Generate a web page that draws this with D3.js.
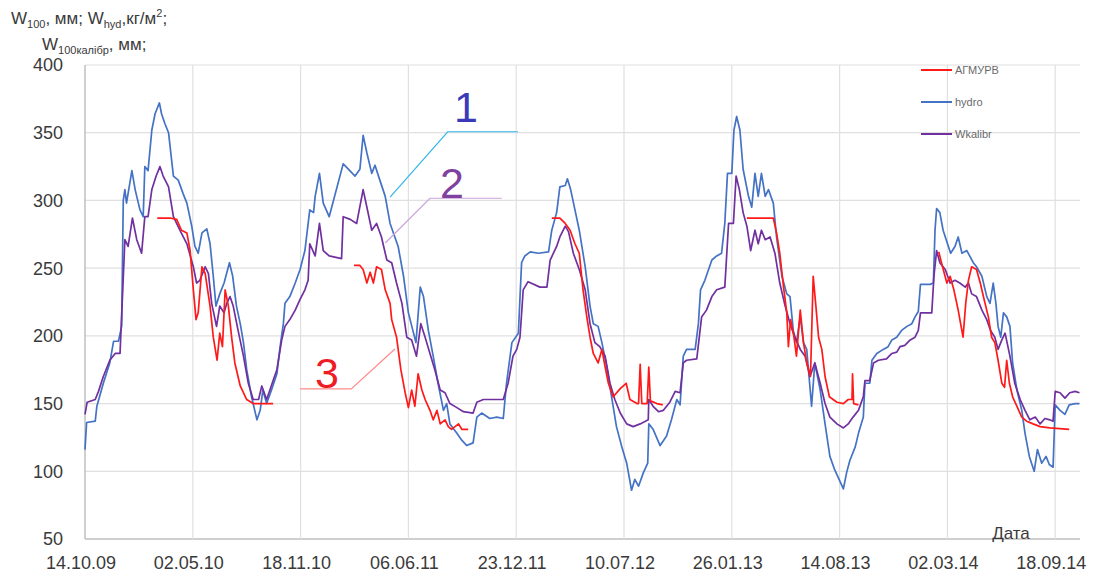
<!DOCTYPE html>
<html>
<head>
<meta charset="utf-8">
<script src="https://cdn.jsdelivr.net/npm/d3@7"></script>
<style>
  body { margin: 0; background: #fff; }
  svg { display: block; }
  text { font-family: 'Liberation Sans', Arial, sans-serif; }
</style>
</head>
<body>
<div id="chart"></div>
<script>
// SOIL MOISTURE: three series over time (days counted from 14.10.09)

// DATA
const startLabel = '14.10.09';
const lastDay = 1846;
const tickLabels = ['14.10.09', '02.05.10', '18.11.10', '06.06.11', '23.12.11',
  '10.07.12', '26.01.13', '14.08.13', '02.03.14', '18.09.14'];
const yTicks = [50, 100, 150, 200, 250, 300, 350, 400];
const seriesNames = ['АГМУРВ', 'hydro', 'Wkalibr'];

// [day, value]
const hydro = [[0,116],[3,136],[19,137],[22,148],[34,165],[46,180],[53,196],[62,196],[68,207],[71,300],[74,308],[77,298],[87,322],[93,308],[102,293],[108,288],[111,325],[117,322],[124,352],[130,364],[138,372],[142,364],[148,357],[155,350],[164,318],[173,315],[182,305],[189,298],[198,281],[204,266],[210,261],[217,276],[226,279],[232,268],[238,244],[243,222],[250,231],[258,239],[268,254],[274,244],[281,222],[288,209],[294,195],[300,175],[309,155],[319,138],[325,145],[330,160],[337,150],[346,160],[356,172],[362,192],[368,209],[371,224],[380,229],[390,239],[399,249],[408,263],[417,293],[424,291],[427,303],[435,320],[442,298],[453,288],[479,327],[489,323],[501,318],[510,323],[516,348],[523,335],[532,320],[538,326],[547,315],[557,303],[566,283],[581,266],[591,244],[600,217],[614,195],[622,236],[628,229],[637,204],[646,185],[655,165],[665,145],[671,150],[677,135],[690,128],[699,123],[708,119],[720,121],[727,140],[736,143],[751,139],[764,140],[776,139],[782,165],[792,195],[804,202],[810,254],[816,259],[826,262],[841,261],[860,262],[866,278],[875,291],[881,310],[891,311],[895,316],[901,308],[909,293],[917,278],[928,251],[937,222],[943,209],[952,207],[959,195],[968,177],[977,155],[986,133],[996,118],[1005,106],[1014,86],[1020,94],[1027,89],[1036,99],[1044,106],[1046,135],[1054,131],[1067,119],[1079,126],[1088,138],[1098,153],[1104,149],[1110,185],[1116,190],[1132,190],[1138,209],[1142,234],[1150,241],[1163,256],[1172,259],[1181,261],[1187,283],[1192,320],[1200,320],[1204,352],[1209,362],[1215,352],[1221,323],[1231,303],[1237,295],[1243,320],[1249,303],[1255,320],[1262,303],[1268,308],[1277,298],[1283,273],[1293,244],[1302,231],[1308,229],[1314,204],[1320,195],[1327,214],[1333,195],[1339,190],[1348,148],[1354,180],[1364,160],[1373,135],[1382,111],[1391,101],[1407,87],[1413,99],[1419,108],[1429,118],[1435,128],[1444,140],[1447,165],[1456,165],[1460,182],[1469,187],[1481,190],[1490,192],[1497,197],[1506,199],[1515,204],[1525,207],[1534,209],[1540,214],[1546,218],[1550,238],[1568,238],[1574,239],[1577,278],[1580,294],[1586,291],[1592,278],[1606,261],[1614,266],[1620,273],[1627,261],[1636,263],[1648,254],[1654,251],[1664,244],[1673,229],[1679,224],[1685,239],[1690,224],[1694,207],[1699,199],[1704,217],[1710,214],[1716,207],[1721,180],[1729,160],[1738,145],[1744,128],[1752,111],[1761,100],[1767,116],[1775,106],[1783,111],[1789,105],[1796,103],[1800,149],[1809,145],[1818,142],[1826,149],[1837,150],[1845,150]];

const wkalibr = [[0,142],[4,151],[19,153],[25,159],[34,170],[46,182],[56,187],[65,187],[74,271],[80,266],[88,287],[96,271],[105,261],[111,288],[117,288],[124,308],[132,318],[139,325],[145,318],[155,310],[164,288],[176,278],[189,268],[201,251],[207,239],[213,241],[223,251],[229,246],[235,224],[244,207],[250,222],[258,217],[263,224],[269,229],[275,222],[284,204],[294,185],[303,165],[312,153],[322,153],[328,163],[337,153],[343,160],[349,167],[356,175],[365,197],[371,207],[380,212],[390,219],[399,227],[408,234],[414,241],[417,268],[427,259],[435,283],[442,263],[453,259],[476,257],[479,288],[492,286],[504,283],[516,308],[523,295],[532,278],[541,283],[550,273],[560,256],[569,254],[578,239],[588,224],[597,199],[606,197],[615,185],[623,209],[631,199],[640,187],[649,175],[659,160],[668,158],[677,150],[690,147],[702,144],[720,143],[727,151],[739,153],[764,153],[776,153],[785,165],[794,185],[801,190],[807,199],[813,234],[822,240],[844,236],[857,236],[863,256],[875,266],[881,273],[891,281],[897,277],[906,261],[917,249],[928,234],[937,209],[946,195],[955,192],[965,185],[974,165],[983,153],[993,143],[1005,135],[1017,133],[1030,135],[1045,138],[1046,153],[1054,148],[1064,144],[1073,145],[1085,151],[1095,159],[1104,158],[1110,180],[1116,182],[1135,183],[1144,214],[1153,219],[1163,229],[1172,234],[1187,236],[1194,283],[1203,283],[1208,318],[1214,308],[1221,291],[1228,281],[1235,263],[1243,278],[1249,268],[1255,278],[1262,271],[1271,273],[1280,261],[1289,239],[1299,222],[1308,209],[1317,199],[1327,190],[1336,185],[1345,170],[1354,180],[1364,165],[1373,150],[1382,140],[1395,135],[1407,132],[1416,135],[1425,140],[1435,145],[1444,155],[1447,167],[1456,167],[1463,180],[1472,182],[1487,183],[1497,187],[1506,188],[1512,192],[1521,193],[1531,197],[1540,199],[1546,204],[1550,217],[1571,217],[1575,244],[1580,263],[1586,254],[1596,249],[1605,239],[1614,241],[1623,239],[1633,236],[1639,239],[1645,231],[1654,229],[1664,219],[1673,212],[1680,204],[1688,199],[1694,190],[1701,197],[1707,202],[1716,185],[1725,165],[1735,153],[1744,145],[1753,138],[1763,140],[1772,135],[1781,139],[1790,138],[1796,137],[1800,159],[1809,158],[1818,154],[1827,158],[1837,159],[1845,158]];

// null values = gaps in the record
const agmurv = [[134,287],[158,287],[170,286],[179,278],[189,276],[195,263],[201,234],[206,212],[210,217],[217,251],[223,246],[232,222],[238,199],[245,182],[250,202],[255,192],[260,234],[266,222],[272,199],[278,180],[288,163],[300,153],[312,150],[349,150],
  [420,null],
  [499,252],[510,252],[516,249],[523,239],[529,247],[535,239],[541,251],[550,249],[557,234],[566,224],[569,212],[578,199],[586,175],[594,158],[600,147],[606,160],[612,148],[618,172],[625,160],[631,153],[640,145],[646,138],[653,145],[659,135],[668,138],[674,133],[680,131],[693,135],[699,131],[711,131],
  [790,null],
  [866,287],[881,287],[891,283],[900,278],[909,268],[917,261],[924,234],[931,214],[937,199],[943,187],[952,180],[959,190],[965,177],[971,165],[980,155],[993,161],[1004,165],[1011,153],[1024,150],[1027,150],[1030,179],[1033,150],[1043,150],[1046,177],[1049,152],[1061,150],[1072,149],
  [1150,null],
  [1228,287],[1277,287],[1283,276],[1289,261],[1296,236],[1302,217],[1305,192],[1309,212],[1315,200],[1320,185],[1327,219],[1333,195],[1339,180],[1346,170],[1351,244],[1356,222],[1361,199],[1367,190],[1373,170],[1381,155],[1395,151],[1407,150],[1416,153],[1423,153],[1424,172],[1426,150],[1435,149],
  [1500,null],
  [1584,262],[1589,254],[1599,239],[1605,244],[1612,234],[1620,219],[1629,199],[1634,224],[1639,241],[1645,251],[1654,249],[1661,239],[1668,227],[1676,214],[1682,199],[1688,195],[1694,182],[1701,165],[1706,162],[1710,182],[1715,165],[1721,155],[1729,148],[1738,140],[1747,137],[1759,135],[1772,133],[1790,132],[1826,131]];

// CONST and GLOBALS
let width = 1094,
  height = 574;
let plot = { left: 85, right: 1080, top: 65, bottom: 539 };
let colors = { red: '#ff1a1a', blue: '#4472c4', purple: '#7030a0' };

let parseDay = d3.timeParse('%d.%m.%y');
let startDate = parseDay(startLabel);
let toDate = day => d3.timeDay.offset(startDate, day);

let xScale = d3
  .scaleTime()
  .domain([startDate, toDate(lastDay)])
  .range([plot.left, plot.right]);

let yScale = d3.scaleLinear().domain([50, 400]).range([plot.bottom, plot.top]);

let svg = d3
  .select('#chart')
  .append('svg')
  .attr('width', width)
  .attr('height', height);

// grid lines
svg
  .append('g')
  .selectAll('line')
  .data(yTicks)
  .join('line')
  .attr('x1', plot.left)
  .attr('x2', plot.right)
  .attr('y1', d => yScale(d))
  .attr('y2', d => yScale(d))
  .attr('stroke', d => (d === 50 ? '#bfbfbf' : '#e0e0e0'))
  .attr('stroke-width', d => (d === 50 ? 1.5 : 1.2));

let tickDates = tickLabels.map(parseDay);

svg
  .append('g')
  .selectAll('line')
  .data(tickDates)
  .join('line')
  .attr('x1', d => xScale(d))
  .attr('x2', d => xScale(d))
  .attr('y1', plot.top)
  .attr('y2', plot.bottom)
  .attr('stroke', (d, i) => (i === 0 ? '#bfbfbf' : '#e0e0e0'))
  .attr('stroke-width', (d, i) => (i === 0 ? 1.5 : 1.2));

// axis labels
svg
  .append('g')
  .selectAll('text')
  .data(yTicks)
  .join('text')
  .attr('x', 63)
  .attr('y', d => yScale(d))
  .attr('dy', '0.36em')
  .attr('text-anchor', 'end')
  .attr('font-size', 18)
  .attr('fill', '#3a3a3a')
  .text(d => d);

svg
  .append('g')
  .selectAll('text')
  .data(tickDates)
  .join('text')
  .attr('x', d => xScale(d) - 4)
  .attr('y', 569)
  .attr('text-anchor', 'middle')
  .attr('font-size', 18)
  .attr('fill', '#3a3a3a')
  .text((d, i) => tickLabels[i]);

svg
  .append('text')
  .attr('x', 1011)
  .attr('y', 539)
  .attr('text-anchor', 'middle')
  .attr('font-size', 17)
  .attr('fill', '#3a3a3a')
  .text('Дата');

// y title with sub/superscripts
let title = svg
  .append('text')
  .attr('font-size', 17)
  .attr('fill', '#3a3a3a');

let line1 = [['W', 0], ['100', -1], [', мм; W', 0], ['hyd', -1], [',кг/м', 0], ['2', 1], [';', 0]];
let line2 = [['W', 0], ['100калібр', -1], [', мм;', 0]];

function addLine(parts, x, y) {
  parts.forEach((p, i) => {
    let t = title.append('tspan').text(p[0]);
    if (i === 0) t.attr('x', x).attr('y', y);
    if (p[1] !== 0) {
      t.attr('font-size', 11).attr('dy', p[1] < 0 ? 4 : -7);
    } else if (i > 0 && parts[i - 1][1] !== 0) {
      t.attr('dy', parts[i - 1][1] < 0 ? -4 : 7);
    }
  });
}
addLine(line1, 11, 24);
addLine(line2, 42, 50);

// series lines
let line = d3
  .line()
  .defined(d => d[1] !== null)
  .x(d => xScale(toDate(d[0])))
  .y(d => yScale(d[1]));

let series = [
  { data: agmurv, color: colors.red },
  { data: hydro, color: colors.blue },
  { data: wkalibr, color: colors.purple },
];

svg
  .append('g')
  .selectAll('path')
  .data([series[1], series[2], series[0]])
  .join('path')
  .attr('d', d => line(d.data))
  .attr('fill', 'none')
  .attr('stroke', d => d.color)
  .attr('stroke-width', 1.7)
  .attr('stroke-linejoin', 'round');

// legend
let legend = svg
  .append('g')
  .selectAll('g')
  .data(series)
  .join('g')
  .attr('transform', (d, i) => `translate(921,${70 + i * 32})`);

legend
  .append('line')
  .attr('x2', 31)
  .attr('stroke', d => d.color)
  .attr('stroke-width', 2);

legend
  .append('text')
  .attr('x', 34)
  .attr('dy', '0.35em')
  .attr('font-size', 11)
  .attr('fill', '#6a6a6a')
  .text((d, i) => seriesNames[i]);

// numbered callouts, placed in data space: [day, value]
let callouts = [
  { label: '1', at: [707, 358], path: [[566, 302.5], [673, 350.7], [803, 350.7]], color: '#3a3ab8', lineColor: '#35b5ea' },
  { label: '2', at: [681, 302], path: [[557, 268.6], [640, 301.6], [773, 301.6]], color: '#8040a0', lineColor: '#c9a3dc' },
  { label: '3', at: [449, 161.5], path: [[399, 160.8], [494, 160.8], [575, 190.3]], color: '#ee1c25', lineColor: '#ff8a8a' },
];

let callout = svg.append('g').selectAll('g').data(callouts).join('g');

callout
  .append('path')
  .attr('d', d => line(d.path))
  .attr('fill', 'none')
  .attr('stroke', d => d.lineColor)
  .attr('stroke-width', 1.2);

callout
  .append('text')
  .attr('x', d => xScale(toDate(d.at[0])))
  .attr('y', d => yScale(d.at[1]))
  .attr('text-anchor', 'middle')
  .attr('font-size', 43)
  .attr('fill', d => d.color)
  .text(d => d.label);
</script>
</body>
</html>
